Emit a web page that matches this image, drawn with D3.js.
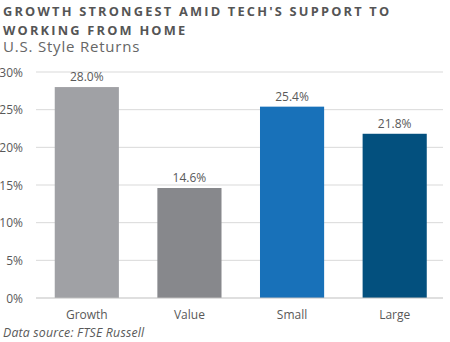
<!DOCTYPE html>
<html>
<head>
<meta charset="utf-8">
<script src="https://cdn.jsdelivr.net/npm/d3@7"></script>
<style>
  html, body { margin: 0; padding: 0; background: #fff; }
  svg { display: block; }
  text { font-family: "Open Sans", "Noto Sans", sans-serif; }
</style>
</head>
<body>
<svg id="chart" width="450" height="342"></svg>
<script>
const categories = ["Growth", "Value", "Small", "Large"];
const values = [28.0, 14.6, 25.4, 21.8];
const colors = ["#a0a1a5", "#87888c", "#1871b9", "#03507e"];
const yTicks = [0, 5, 10, 15, 20, 25, 30];
const titleLines = ["GROWTH STRONGEST AMID TECH'S SUPPORT TO", "WORKING FROM HOME"];
const subtitle = "U.S. Style Returns";
const source = "Data source: FTSE Russell";

const svg = d3.select("#chart");
const x = d3.scaleBand().domain(categories).range([35.5, 446]).paddingInner(0.375).paddingOuter(0.1875);
const y = d3.scaleLinear().domain([0, 30]).range([298, 72]);

// title
svg.selectAll("text.title").data(titleLines).join("text")
  .attr("class", "title")
  .attr("x", 3).attr("y", (d, i) => 15.5 + i * 19.5)
  .attr("font-size", 12.8).attr("font-weight", 700)
  .attr("letter-spacing", 2.2)
  .attr("fill", "#555555")
  .text(d => d);
svg.append("text").attr("x", 3).attr("y", 51.5)
  .attr("font-size", 15).attr("letter-spacing", 0.8).attr("fill", "#666666").text(subtitle);

// gridlines
const g = svg.append("g");
g.selectAll("line.grid").data(yTicks.filter(t => t > 0)).join("line")
  .attr("x1", 36).attr("x2", 443)
  .attr("y1", d => y(d)).attr("y2", d => y(d))
  .attr("stroke", "#d9d9d9").attr("stroke-width", 1);

// y axis labels
g.selectAll("text.ytick").data(yTicks).join("text")
  .attr("x", 23).attr("y", d => y(d) + 4.5)
  .attr("text-anchor", "end").attr("font-size", 12).attr("fill", "#595959")
  .text(d => d + "%");

// bars
g.selectAll("rect.bar").data(values).join("rect")
  .attr("x", (d, i) => x(categories[i]))
  .attr("width", x.bandwidth())
  .attr("y", d => y(d))
  .attr("height", d => y(0) - y(d))
  .attr("fill", (d, i) => colors[i]);

// value labels
g.selectAll("text.val").data(values).join("text")
  .attr("x", (d, i) => x(categories[i]) + x.bandwidth() / 2)
  .attr("y", d => y(d) - 6)
  .attr("text-anchor", "middle").attr("font-size", 12).attr("fill", "#595959")
  .text(d => d.toFixed(1) + "%");

// baseline
g.append("line").attr("x1", 36).attr("x2", 443).attr("y1", y(0)).attr("y2", y(0))
  .attr("stroke", "#bfbfbf").attr("stroke-width", 1);

// x labels
g.selectAll("text.xl").data(categories).join("text")
  .attr("x", d => x(d) + x.bandwidth() / 2).attr("y", 318.5)
  .attr("text-anchor", "middle").attr("font-size", 12).attr("fill", "#595959")
  .text(d => d);

// source
svg.append("text").attr("x", 3).attr("y", 337)
  .attr("font-size", 12.3).attr("font-style", "italic").attr("letter-spacing", 0.2)
  .attr("fill", "#595959").text(source);
</script>
</body>
</html>
